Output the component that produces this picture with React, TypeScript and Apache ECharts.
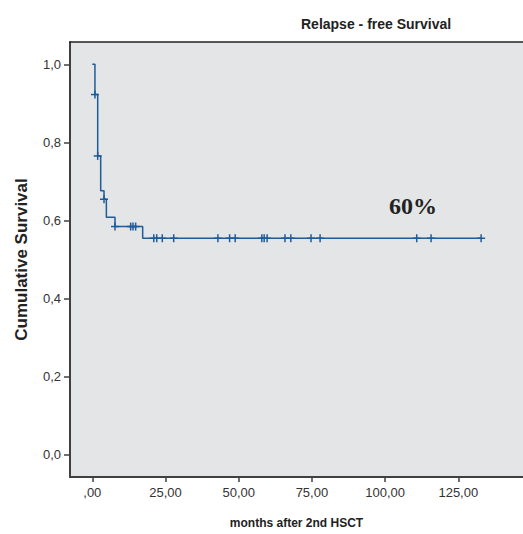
import React, { useEffect, useRef } from "react";
import * as echarts from "echarts";

// Kaplan-Meier step curve (time in months, cumulative survival)
const stepTimes = [0, 0.9, 1.84, 2.86, 4.0, 4.8, 7.75, 17.2, 132.8];
const stepSurvival = [1.0, 0.9225, 0.765, 0.676, 0.654, 0.608, 0.584, 0.554, 0.554];

// Censored observations
const censorTimes = [
  0.9, 1.84, 4.0, 7.75, 13.1, 13.9, 14.8, 21.0, 22.0, 23.9, 27.8, 42.9, 46.9, 48.8,
  57.9, 58.7, 59.7, 65.8, 67.8, 74.7, 77.8, 110.8, 115.7, 132.8,
];
const censorSurvival = [
  0.9225, 0.765, 0.654, 0.584, 0.584, 0.584, 0.584, 0.554, 0.554, 0.554, 0.554, 0.554,
  0.554, 0.554, 0.554, 0.554, 0.554, 0.554, 0.554, 0.554, 0.554, 0.554, 0.554, 0.554,
];

const xTicks = [0, 25, 50, 75, 100, 125];
const yTicks = [0, 0.2, 0.4, 0.6, 0.8, 1.0];

const titleText = "Relapse - free Survival";
const xTitle = "months after 2nd HSCT";
const yTitle = "Cumulative Survival";
const annotation = "60%";

const LINE_COLOR = "#1f5b98";
const AXIS_COLOR = "#404040";
const FONT = "'Liberation Sans', Arial, sans-serif";

export default function App() {
  const ref = useRef<HTMLDivElement>(null);

  useEffect(() => {
    if (!ref.current) return;
    const chart = echarts.init(ref.current, null, { renderer: "svg" });

    const xFmt = (v: number) => {
      const s = v.toFixed(2).replace(".", ",");
      return v === 0 ? ",00" : s;
    };
    const yFmt = (v: number) => v.toFixed(1).replace(".", ",");

    const option: any = {
      animation: false,
      backgroundColor: "#ffffff",
      title: {
        text: titleText,
        left: 296,
        top: 12,
        textStyle: { fontFamily: FONT, fontSize: 14, fontWeight: "bold", color: "#222" },
      },
      grid: {
        left: 70,
        top: 42,
        width: 453,
        height: 435,
        show: true,
        backgroundColor: "#e4e5e7",
        borderWidth: 0,
        containLabel: false,
        outerBoundsMode: "none",
      },
      xAxis: [
        {
          type: "value",
          min: -7.62,
          max: 147.1,
          position: "bottom",
          splitLine: { show: false },
          axisLine: { show: true, onZero: false, lineStyle: { color: AXIS_COLOR, width: 2 } },
          axisTick: {
            show: true,
            length: 5,
            customValues: xTicks,
            lineStyle: { color: AXIS_COLOR, width: 1.5 },
          },
          axisLabel: {
            customValues: xTicks,
            formatter: xFmt,
            margin: 9,
            fontFamily: FONT,
            fontSize: 13,
            color: "#333",
          },
          name: xTitle,
          nameLocation: "middle",
          nameGap: 40,
          nameTextStyle: { fontFamily: FONT, fontSize: 12, fontWeight: "bold", color: "#222" },
        },
        {
          type: "value",
          min: -7.62,
          max: 147.1,
          position: "top",
          splitLine: { show: false },
          axisLine: { show: true, onZero: false, lineStyle: { color: "#222", width: 1.5 } },
          axisTick: { show: false },
          axisLabel: { show: false },
        },
      ],
      yAxis: {
        type: "value",
        min: -0.0582,
        max: 1.0572,
        splitLine: { show: false },
        axisLine: { show: true, onZero: false, lineStyle: { color: AXIS_COLOR, width: 2 } },
        axisTick: {
          show: true,
          length: 6,
          customValues: yTicks,
          lineStyle: { color: AXIS_COLOR, width: 1.5 },
        },
        axisLabel: {
          customValues: yTicks,
          formatter: yFmt,
          margin: 9,
          fontFamily: FONT,
          fontSize: 13,
          color: "#333",
        },
        name: yTitle,
        nameLocation: "middle",
        nameGap: 40,
        nameTextStyle: { fontFamily: FONT, fontSize: 17, fontWeight: "bold", color: "#222" },
      },
      series: [
        {
          type: "line",
          xAxisIndex: 0,
          step: "end",
          symbol: "none",
          data: stepTimes.map((t, i) => [t, stepSurvival[i]]),
          lineStyle: { color: LINE_COLOR, width: 1.5 },
        },
        {
          type: "custom",
          xAxisIndex: 0,
          data: censorTimes.map((t, i) => [t, censorSurvival[i]]),
          encode: { x: 0, y: 1 },
          renderItem: (params: any, api: any) => {
            const p = api.coord([api.value(0), api.value(1)]);
            const style = { stroke: LINE_COLOR, lineWidth: 1.5 };
            return {
              type: "group",
              children: [
                { type: "line", shape: { x1: p[0] - 4, y1: p[1], x2: p[0] + 4, y2: p[1] }, style },
                { type: "line", shape: { x1: p[0], y1: p[1] - 4, x2: p[0], y2: p[1] + 4 }, style },
              ],
            };
          },
        },
      ],
      graphic: [
        {
          type: "text",
          left: 389,
          top: 194,
          style: {
            text: annotation,
            fontFamily: "'Liberation Serif', 'Times New Roman', serif",
            fontSize: 24,
            fontWeight: "bold",
            fill: "#222",
          },
        },
      ],
    };

    chart.setOption(option);
    return () => chart.dispose();
  }, []);

  return (
    <div
      ref={ref}
      style={{ position: "fixed", left: 0, top: 0, width: 523, height: 534 }}
    />
  );
}
